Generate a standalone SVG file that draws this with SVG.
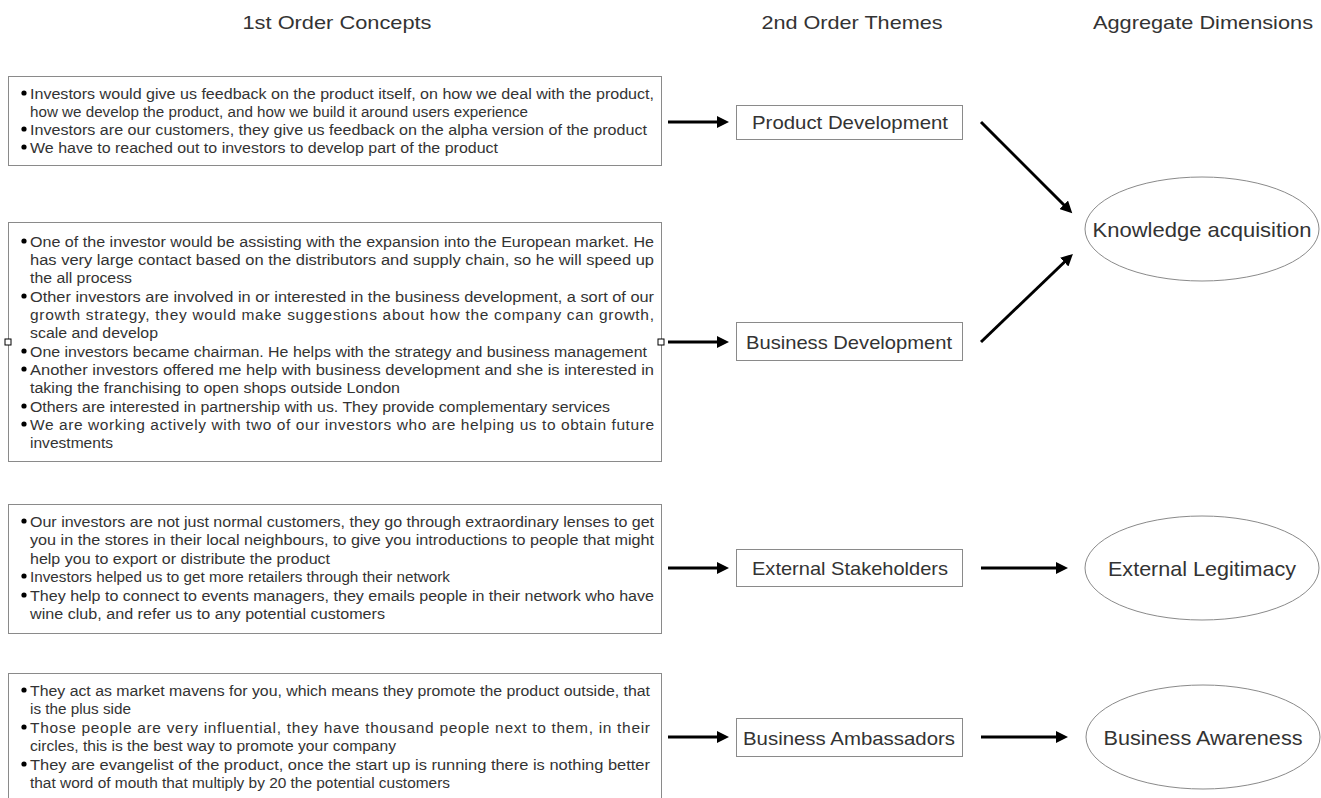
<svg xmlns="http://www.w3.org/2000/svg" width="1321" height="798" viewBox="0 0 1321 798">
<style>
.hdr{font-family:"Liberation Sans",Arial,sans-serif;font-size:19px;fill:#333;text-anchor:middle}
.box{fill:#fff;stroke:#8a8a8a;stroke-width:1}
.t{font-family:"Liberation Sans",Arial,sans-serif;font-size:15.5px;fill:#333}
.lbl{font-family:"Liberation Sans",Arial,sans-serif;font-size:19px;fill:#333;text-anchor:middle}
.elbl{font-family:"Liberation Sans",Arial,sans-serif;font-size:21px;fill:#333;text-anchor:middle}
.dot{fill:#000}
.arr{stroke:#000;stroke-width:3;fill:none;marker-end:url(#ah)}
.hnd{fill:#fff;stroke:#000;stroke-width:1}
</style>
<defs>
<marker id="ah" markerUnits="userSpaceOnUse" markerWidth="14" markerHeight="12" refX="1" refY="6" orient="auto">
<path d="M0,0 L12,6 L0,12 z" fill="#000"/>
</marker>
</defs>
<rect width="1321" height="798" fill="#fff"/>
<g id="headers">
<text class="hdr" x="337" y="29" textLength="189" lengthAdjust="spacingAndGlyphs">1st Order Concepts</text>
<text class="hdr" x="852" y="29" textLength="181" lengthAdjust="spacingAndGlyphs">2nd Order Themes</text>
<text class="hdr" x="1203" y="29" textLength="220" lengthAdjust="spacingAndGlyphs">Aggregate Dimensions</text>
</g>
<g id="c1">
<rect class="box" x="8.5" y="76.5" width="653" height="89"/>
<circle class="dot" cx="24" cy="93" r="2.6"/><circle class="dot" cx="24" cy="129" r="2.6"/><circle class="dot" cx="24" cy="147" r="2.6"/>
<text class="t" x="30" y="98.5" textLength="624" lengthAdjust="spacingAndGlyphs">Investors would give us feedback on the product itself, on how we deal with the product,</text>
<text class="t" x="30" y="116.5" textLength="498" lengthAdjust="spacingAndGlyphs">how we develop the product,  and how we build it around users experience</text>
<text class="t" x="30" y="134.5" textLength="617" lengthAdjust="spacingAndGlyphs">Investors are our customers, they give us feedback on the alpha version of the product</text>
<text class="t" x="30" y="152.5" textLength="468" lengthAdjust="spacingAndGlyphs">We have to reached out to investors to develop part of the product</text>
</g>
<g id="c2">
<rect class="box" x="8.5" y="222.5" width="653" height="239"/>
<circle class="dot" cx="24" cy="241" r="2.6"/><circle class="dot" cx="24" cy="296" r="2.6"/><circle class="dot" cx="24" cy="351" r="2.6"/><circle class="dot" cx="24" cy="369" r="2.6"/><circle class="dot" cx="24" cy="406" r="2.6"/><circle class="dot" cx="24" cy="424" r="2.6"/>
<text class="t" x="30" y="246.5" textLength="624" lengthAdjust="spacingAndGlyphs">One of the investor would be assisting with the expansion into the European market. He</text>
<text class="t" x="30" y="264.5" textLength="624" lengthAdjust="spacingAndGlyphs">has very large contact based on the distributors and supply chain, so he will speed up</text>
<text class="t" x="30" y="282.5" textLength="102" lengthAdjust="spacingAndGlyphs">the all process</text>
<text class="t" x="30" y="301.5" textLength="624" lengthAdjust="spacingAndGlyphs">Other investors are involved in or interested in the business development, a sort of our</text>
<text class="t" x="30" y="319.5" textLength="624" lengthAdjust="spacing">growth strategy, they would make suggestions about how the company can growth,</text>
<text class="t" x="30" y="337.5" textLength="128" lengthAdjust="spacingAndGlyphs">scale and develop</text>
<text class="t" x="30" y="356.5" textLength="617" lengthAdjust="spacingAndGlyphs">One investors became chairman. He helps with the strategy and business management</text>
<text class="t" x="30" y="374.5" textLength="624" lengthAdjust="spacingAndGlyphs">Another investors offered me help with business development and she is interested in</text>
<text class="t" x="30" y="392.5" textLength="370" lengthAdjust="spacingAndGlyphs">taking the franchising to open shops outside London</text>
<text class="t" x="30" y="411.5" textLength="580" lengthAdjust="spacingAndGlyphs">Others are interested in partnership with us. They provide complementary services</text>
<text class="t" x="30" y="429.5" textLength="624" lengthAdjust="spacing">We are working actively with two of our investors who are helping  us to obtain  future</text>
<text class="t" x="30" y="447.5" textLength="83" lengthAdjust="spacingAndGlyphs">investments</text>
</g>
<g id="c3">
<rect class="box" x="8.5" y="504.5" width="653" height="129"/>
<circle class="dot" cx="24" cy="521" r="2.6"/><circle class="dot" cx="24" cy="576" r="2.6"/><circle class="dot" cx="24" cy="595" r="2.6"/>
<text class="t" x="30" y="526.5" textLength="624" lengthAdjust="spacingAndGlyphs">Our investors are not just normal customers, they go through extraordinary lenses to get</text>
<text class="t" x="30" y="544.5" textLength="624" lengthAdjust="spacingAndGlyphs">you in the stores in their local neighbours, to give you introductions to people that might</text>
<text class="t" x="30" y="563.5" textLength="300" lengthAdjust="spacingAndGlyphs">help you to export or distribute the product</text>
<text class="t" x="30" y="581.5" textLength="420" lengthAdjust="spacingAndGlyphs">Investors helped us to get more retailers through their network</text>
<text class="t" x="30" y="600.5" textLength="624" lengthAdjust="spacingAndGlyphs">They help to connect to events managers, they emails people in their network who have</text>
<text class="t" x="30" y="618.5" textLength="355" lengthAdjust="spacingAndGlyphs">wine club, and refer us to any potential customers</text>
</g>
<g id="c4">
<rect class="box" x="8.5" y="673.5" width="653" height="140"/>
<circle class="dot" cx="24" cy="690" r="2.6"/><circle class="dot" cx="24" cy="727" r="2.6"/><circle class="dot" cx="24" cy="764" r="2.6"/>
<text class="t" x="30" y="695.5" textLength="620" lengthAdjust="spacingAndGlyphs">They act as market mavens for you, which means they promote the product outside, that</text>
<text class="t" x="30" y="713.5" textLength="101" lengthAdjust="spacingAndGlyphs">is the plus side</text>
<text class="t" x="30" y="732.5" textLength="620" lengthAdjust="spacing">Those people are very influential, they have thousand people next to them, in their</text>
<text class="t" x="30" y="750.5" textLength="366" lengthAdjust="spacingAndGlyphs">circles, this is the best way to promote your company</text>
<text class="t" x="30" y="769.5" textLength="620" lengthAdjust="spacingAndGlyphs">They are evangelist of the product, once the start up is running there is nothing better</text>
<text class="t" x="30" y="787.5" textLength="420" lengthAdjust="spacingAndGlyphs">that word of mouth that multiply by 20 the potential customers</text>
</g>
<g id="t-product">
<rect class="box" x="736.5" y="105.5" width="226" height="34"/>
<text class="lbl" x="850" y="129" textLength="196" lengthAdjust="spacingAndGlyphs">Product Development</text>
</g>
<g id="t-business">
<rect class="box" x="736.5" y="322.5" width="226" height="38"/>
<text class="lbl" x="849" y="348.5" textLength="206" lengthAdjust="spacingAndGlyphs">Business Development</text>
</g>
<g id="t-external">
<rect class="box" x="736.5" y="549.5" width="226" height="37"/>
<text class="lbl" x="850" y="575" textLength="196" lengthAdjust="spacingAndGlyphs">External Stakeholders</text>
</g>
<g id="t-ambassadors">
<rect class="box" x="736.5" y="718.5" width="226" height="38"/>
<text class="lbl" x="849" y="744.5" textLength="212" lengthAdjust="spacingAndGlyphs">Business Ambassadors</text>
</g>
<g id="a-knowledge">
<ellipse class="box" cx="1202" cy="229" rx="117" ry="52"/>
<text class="elbl" x="1202" y="236.5" textLength="219" lengthAdjust="spacingAndGlyphs">Knowledge acquisition</text>
</g>
<g id="a-legitimacy">
<ellipse class="box" cx="1202" cy="568" rx="117" ry="52"/>
<text class="elbl" x="1202" y="575.5" textLength="188" lengthAdjust="spacingAndGlyphs">External Legitimacy</text>
</g>
<g id="a-awareness">
<ellipse class="box" cx="1203" cy="737" rx="117" ry="52"/>
<text class="elbl" x="1203" y="744.5" textLength="199" lengthAdjust="spacingAndGlyphs">Business Awareness</text>
</g>
<g id="connectors">
<line class="arr" x1="668" y1="122" x2="718" y2="122"/>
<line class="arr" x1="668" y1="342" x2="718" y2="342"/>
<line class="arr" x1="668" y1="568" x2="718" y2="568"/>
<line class="arr" x1="668" y1="737" x2="718" y2="737"/>
<line class="arr" x1="981" y1="568" x2="1057" y2="568"/>
<line class="arr" x1="981" y1="737" x2="1057" y2="737"/>
<line class="arr" x1="981" y1="122" x2="1064.5" y2="205.5"/>
<line class="arr" x1="981" y1="342" x2="1065" y2="261.5"/>
<rect class="hnd" x="5" y="339" width="6" height="6"/>
<rect class="hnd" x="658" y="339" width="6" height="6"/>
</g>
</svg>
